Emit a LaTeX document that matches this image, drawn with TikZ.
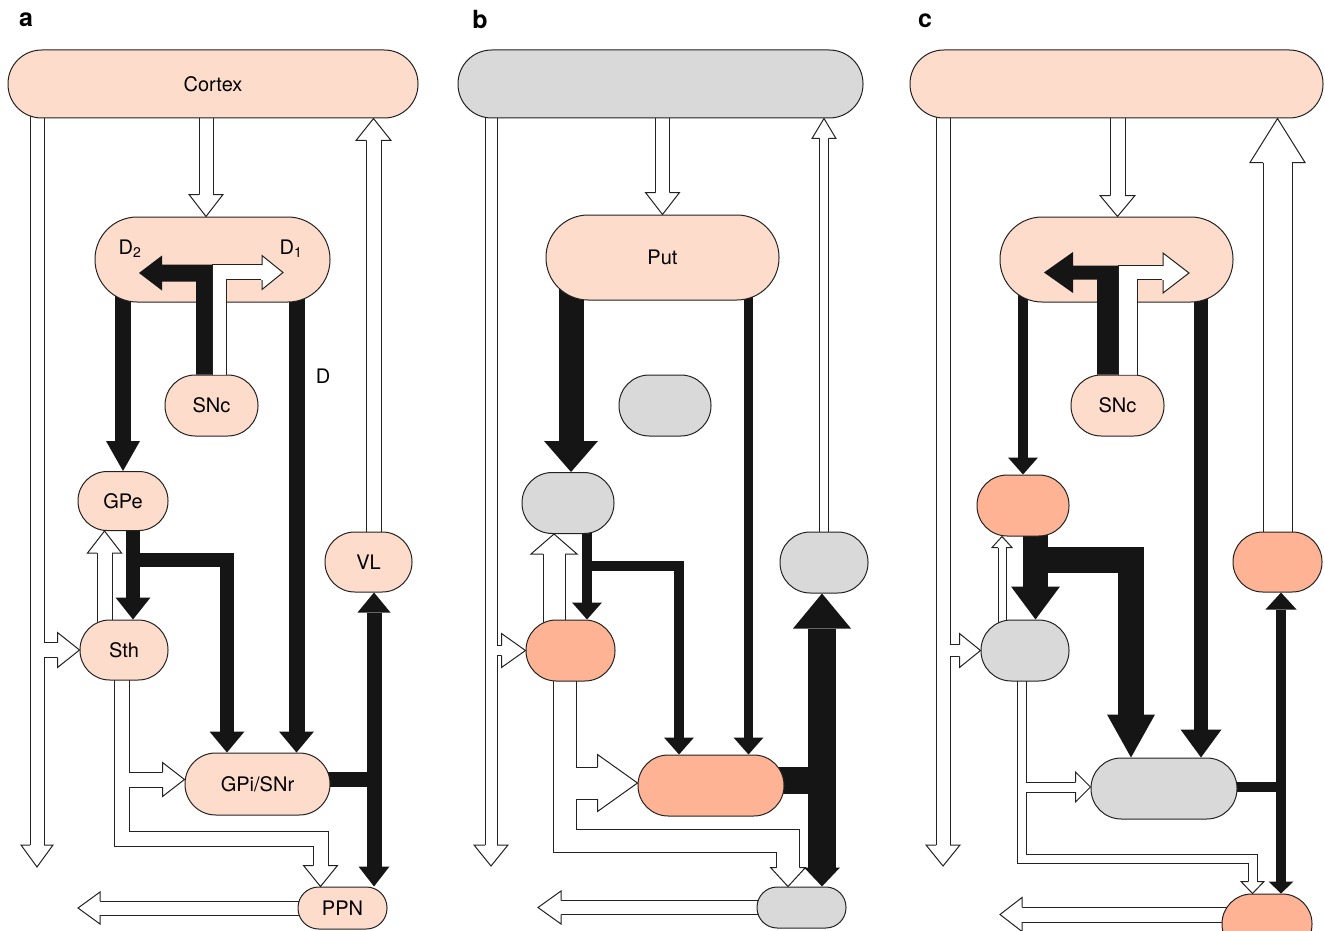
\documentclass[tikz,border=0pt]{standalone}
\usepackage{fontspec}
\setmainfont{TeX Gyre Heros}
\usetikzlibrary{arrows.meta,calc}

\definecolor{lite}{HTML}{FDDCCB}
\definecolor{deep}{HTML}{FDB394}
\definecolor{mute}{HTML}{D9D9D9}
\definecolor{ink}{HTML}{151515}
\definecolor{rim}{HTML}{222222}

\pgfdeclarelayer{conn}
\pgfsetlayers{conn,main}

\newcommand\nodefont{\fontsize{20}{24}\selectfont}
\newcommand\labfont{\fontsize{25}{30}\selectfont\bfseries}

% open head: white triangle, base left open over the shaft
\newcommand\hhead[5]{%
  \begin{scope}[shift={#1}, rotate=#2]
    \fill[white] (0,0) -- (-#5,#4/2) -- (-#5,-#4/2) -- cycle;
    \fill[white] (-#5-1.5,-#3/2+0.5) rectangle (-#5+0.5,#3/2-0.5);
    \draw[rim, line width=1pt, line join=miter] (-#5,#3/2) -- (-#5,#4/2) -- (0,0) -- (-#5,-#4/2) -- (-#5,-#3/2);
  \end{scope}}

% open arrow: #1 shaft, #2 head width, #3 head length, #4 direction, #5 path, #6 tip
\newcommand\harrow[6]{%
  \draw[hout=#1] #5 -- ($#6+({-#3*cos(#4)},{#3*sin(#4)})$);
  \draw[hin=#1] #5 -- ($#6+({-#3*cos(#4)},{#3*sin(#4)})$);
  \hhead{#6}{#4}{#1}{#2}{#3}}

\tikzset{
  stage/.style={draw=rim, line width=1pt, rectangle, inner sep=0pt, font=\nodefont},
  lt/.style={stage, fill=lite},
  dp/.style={stage, fill=deep},
  gy/.style={stage, fill=mute},
  sz/.style 2 args={minimum width=#1, minimum height=#2, rounded corners=#2/2-0.3},
  hout/.style={draw=rim, line width=#1+1, line join=miter},
  hin/.style={draw=white, line width=#1-1, line join=miter},
  bk/.style={draw=ink, line width=#1, line join=miter},
  bhead/.style 2 args={arrows={-{Triangle[length=#1pt,width=#2pt,line width=0pt]}}},
}

\begin{document}
\begin{tikzpicture}[x=1pt, y=-1pt]
\useasboundingbox (0,0) rectangle (1325,931);

% ---- a: normal
\node[font=\labfont] (labA) at (26,20) {a};
\node[lt, sz={410}{68}] (ctxA) at (213,84) {Cortex};
\node[lt, sz={235}{85}] (strA) at (212.5,259.5) {};
\node[lt, sz={93}{61}] (sncA) at (211.5,405.5) {SNc};
\node[lt, sz={90}{59}] (gpeA) at (123,501) {GPe};
\node[lt, sz={88}{60}] (sthA) at (124,650) {Sth};
\node[lt, sz={87}{60}] (vlA) at (368.5,562) {VL};
\node[lt, sz={145}{62}] (gpiA) at (257.5,784) {GPi/SNr};
\node[lt, sz={89}{42}] (ppnA) at (342.5,908) {PPN};
\node[font=\nodefont] (d2A) at (130,249) {D\textsubscript{2}};
\node[font=\nodefont] (d1A) at (291,249) {D\textsubscript{1}};
\node[font=\nodefont] (dA) at (323,376) {D};

% ---- b: Put
\node[font=\labfont] (labB) at (480,20) {b};
\node[gy, sz={405}{68}] (ctxB) at (660.5,84) {};
\node[lt, sz={233}{85}] (putB) at (662.5,257.5) {Put};
\node[gy, sz={92}{61}] (sncB) at (665,405.5) {};
\node[gy, sz={92}{61}] (gpeB) at (568,503) {};
\node[dp, sz={89}{61}] (sthB) at (570.5,650.5) {};
\node[gy, sz={88}{61}] (vlB) at (824,562.5) {};
\node[dp, sz={146}{61}] (gpiB) at (711,785.5) {};
\node[gy, sz={89}{41}] (ppnB) at (801.5,907.5) {};

% ---- c
\node[font=\labfont] (labC) at (925,21) {c};
\node[lt, sz={413}{68}] (ctxC) at (1116.5,84) {};
\node[lt, sz={233}{85}] (strC) at (1116.5,259.5) {};
\node[lt, sz={93}{61}] (sncC) at (1117.5,405.5) {SNc};
\node[dp, sz={92}{61}] (gpeC) at (1023,505.5) {};
\node[gy, sz={88}{61}] (sthC) at (1025,650.5) {};
\node[dp, sz={89}{60}] (vlC) at (1277.5,562) {};
\node[gy, sz={146}{61}] (gpiC) at (1164,788.5) {};
\node[dp, sz={90}{60}] (ppnC) at (1267,924) {};

\begin{pgfonlayer}{conn}
% a
\coordinate (dnA) at (37,867);
\coordinate (outA) at (78,908);
\harrow{14}{32}{22}{-90}{(ctxA.center -| dnA)}{(dnA)}
\harrow{15}{35}{22}{0}{(43.5,650)}{(sthA.west)}
\harrow{14}{34}{22}{-90}{([xshift=-7pt]ctxA.center)}{([xshift=-6.5pt]strA.north)}
\harrow{15}{35}{22}{90}{([xshift=5pt]vlA.center)}{([xshift=160.5pt]ctxA.south)}
\harrow{15}{34}{22}{90}{([xshift=-19.5pt]sthA.center)}{([xshift=-18.5pt]gpeA.south)}
\harrow{15}{34}{21}{-90}{([xshift=-2.5pt]sthA.center) |- (320.5,839)}{([xshift=-22pt]ppnA.north)}
\harrow{15}{34}{22}{0}{(128.5,779.5)}{([yshift=4.5pt]gpiA.west)}
\harrow{14}{32}{22}{180}{(ppnA.center)}{(outA)}
\draw[bk=16, bhead={30}{34}] ([xshift=-89.5pt]strA.center) -- (gpeA.north);
\draw[bk=16, bhead={21}{35}] ([xshift=84pt]strA.center) -- ([xshift=39pt]gpiA.north);
\draw[bk=14, bhead={22}{35}] ([xshift=10pt]gpeA.center) -- ([xshift=9pt]sthA.north);
\draw[bk=14, bhead={21}{35}] (133,560) -| ([xshift=-30.5pt]gpiA.north);
\draw[bk=15] ([yshift=4.5pt]gpiA.center) -- (374,779.5);
\draw[bk=15, {Triangle[length=20pt,width=33pt,line width=0pt]}-{Triangle[length=20pt,width=31pt,line width=0pt]}] ([xshift=5.5pt]vlA.south) -- ([xshift=31.5pt]ppnA.north);

% b
\coordinate (dnB) at (491,866);
\coordinate (outB) at (538,907.5);
\harrow{12}{34}{21}{-90}{(ctxB.center -| dnB)}{(dnB)}
\harrow{10}{34}{24}{0}{(496.5,650.5)}{(sthB.west)}
\harrow{14}{34}{22}{-90}{(putB.center |- ctxB.center)}{(putB.north)}
\harrow{9}{24}{20}{90}{(vlB.center)}{(vlB.center |- ctxB.south)}
\harrow{22}{46}{20}{90}{([xshift=-16.5pt]sthB.center)}{([xshift=-14pt]gpeB.south)}
\harrow{23}{35}{19}{-90}{([xshift=-6pt]sthB.center) |- (788,840.5)}{([xshift=-13.5pt]ppnB.north)}
\harrow{32}{57}{40}{0}{(575.5,783)}{([yshift=2.5pt]gpiB.west)}
\harrow{14}{33}{23}{180}{(ppnB.center)}{(outB)}
\draw[bk=25, bhead={31}{54}] ([xshift=-91.5pt]putB.center) -- ([xshift=3pt]gpeB.north);
\draw[bk=9, bhead={17}{30}] ([xshift=86pt]putB.center) -- ([xshift=37.5pt]gpiB.north);
\draw[bk=10, bhead={17}{30}] ([xshift=19pt]gpeB.center) -- ([xshift=16.5pt]sthB.north);
\draw[bk=10, bhead={17}{30}] (587,566) -| ([xshift=-32pt]gpiB.north);
\draw[bk=27] ([yshift=5.5pt]gpiB.center) -- (822,780);
\draw[bk=28, {Triangle[length=35pt,width=58pt,line width=0pt]}-{Triangle[length=19pt,width=36pt,line width=0pt]}] ([xshift=-2pt]vlB.south) -- ([xshift=20.5pt]ppnB.north);

% c
\coordinate (dnC) at (943,866);
\coordinate (outC) at (1000,914.5);
\harrow{14}{34}{21}{-90}{(ctxC.center -| dnC)}{(dnC)}
\harrow{12}{34}{21}{0}{(949.5,650.5)}{(sthC.west)}
\harrow{15}{35}{21}{-90}{([xshift=1pt]ctxC.center)}{([xshift=1pt]strC.north)}
\harrow{29}{55}{44}{90}{(vlC.center)}{(vlC.center |- ctxC.south)}
\harrow{8}{20}{11}{90}{([xshift=-23pt]sthC.center)}{([xshift=-21pt]gpeC.south)}
\harrow{9}{23}{12}{-90}{([xshift=-3.5pt]sthC.center) |- (1252.5,859)}{([xshift=-14.5pt]ppnC.north)}
\harrow{10}{30}{15}{0}{(1025.5,787)}{([yshift=1.5pt]gpiC.west)}
\harrow{15}{34}{22}{180}{([yshift=9.5pt]ppnC.center)}{(outC)}
\draw[bk=10, bhead={17}{30}] ([xshift=-93.5pt]strC.center) -- (gpeC.north);
\draw[bk=14, bhead={28}{41}] ([xshift=84.5pt]strC.center) -- ([xshift=37pt]gpiC.north);
\draw[bk=25, bhead={33}{49}] ([xshift=12.5pt]gpeC.center) -- ([xshift=10.5pt]sthC.north);
\draw[bk=26, bhead={43}{48}] (1035.5,560) -| ([xshift=-33pt]gpiC.north);
\draw[bk=10] ([yshift=1.5pt]gpiC.center) -- (1281,787);
\draw[bk=10, {Triangle[length=17pt,width=31pt,line width=0pt]}-{Triangle[length=12pt,width=25pt,line width=0pt]}] ([xshift=3.5pt]vlC.south) -- ([xshift=14pt]ppnC.north);
\end{pgfonlayer}

% dopamine T from SNc into the striatum
\fill[ink] ([xshift=0.5pt]sncA.north) -- ++(0,-110) -- ++(-50,0) -- ++(0,-9) -- ++(-23,17.5) -- ++(23,17.5) -- ++(0,-9) -- ++(34,0) -- ++(0,93) -- cycle;
\fill[white] ([xshift=0.5pt]sncA.north) -- ++(0,-110) -- ++(50,0) -- ++(0,15) -- ++(-36,0) -- ++(0,95) -- cycle;
\draw[rim, line width=1pt] ([xshift=0.5pt]sncA.north) -- ++(0,-110) -- ++(50,0) ++(0,15) -- ++(-36,0) -- ++(0,95);
\hhead{(283,272.5)}{0}{15}{34}{21}

\fill[ink] ([xshift=0.5pt]sncC.north) -- ++(0,-109) -- ++(-45,0) -- ++(0,-13.5) -- ++(-29,20.5) -- ++(29,20.5) -- ++(0,-13.5) -- ++(24,0) -- ++(0,95) -- cycle;
\fill[white] ([xshift=0.5pt]sncC.north) -- ++(0,-109) -- ++(45,0) -- ++(0,14) -- ++(-26,0) -- ++(0,95) -- cycle;
\draw[rim, line width=1pt] ([xshift=0.5pt]sncC.north) -- ++(0,-109) -- ++(45,0) ++(0,14) -- ++(-26,0) -- ++(0,95);
\hhead{(1189,273)}{0}{14}{40}{26}
\end{tikzpicture}
\end{document}
